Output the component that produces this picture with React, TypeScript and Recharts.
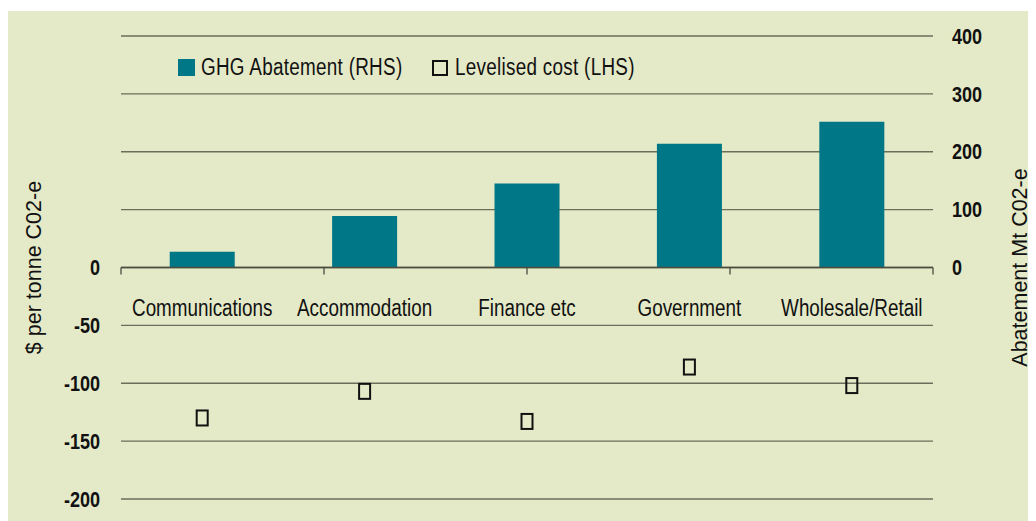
import React from "react";
import {
  ComposedChart,
  Bar,
  Scatter,
  XAxis,
  YAxis,
  CartesianGrid,
  ReferenceLine,
  Legend,
} from "recharts";

const sectors = [
  "Communications",
  "Accommodation",
  "Finance etc",
  "Government",
  "Wholesale/Retail",
];
const abatement = [27, 89, 145, 214, 252];
const levelisedCost = [-130, -107, -133, -86, -102];

const leftTicks = [-200, -150, -100, -50, 0, 50, 100, 150, 200];
const rightTicks = [0, 100, 200, 300, 400];
const boundaries = [0, 1, 2, 3, 4, 5];

const data = sectors.map((name, i) => ({
  name,
  abatement: abatement[i],
  cost: levelisedCost[i],
}));

const BG = "#e4e9c7";
const TEAL = "#007786";
const GRID = "#6b6e5a";
const INK = "#111";
const SANS = "'Liberation Sans', Arial, sans-serif";
const SQUEEZE = 0.82; // the original uses a narrow face

// text squeezed horizontally around its anchor point
const NarrowText = ({ x, y, anchor, size, bold, children }: any) => (
  <g transform={`translate(${x}, ${y}) scale(${SQUEEZE}, 1)`}>
    <text x={0} y={0} dy="0.35em" textAnchor={anchor} fontFamily={SANS} fontWeight={bold ? "bold" : "normal"} fontSize={size} fill={INK}>
      {children}
    </text>
  </g>
);

const LeftTick = (props: any) => {
  const { x, y, payload } = props;
  if (payload.value > 0) return null;
  return (
    <NarrowText x={x} y={y} anchor="end" size={22} bold>
      {payload.value}
    </NarrowText>
  );
};

const RightTick = (props: any) => {
  const { x, y, payload } = props;
  return (
    <NarrowText x={x} y={y} anchor="start" size={22} bold>
      {payload.value}
    </NarrowText>
  );
};

// category names sit just under the zero line, not at the bottom of the plot
const CategoryTick = (props: any) => {
  const { x, y, payload } = props;
  return (
    <NarrowText x={x} y={y - 191} anchor="middle" size={23}>
      {payload.value}
    </NarrowText>
  );
};

const SideTitle = (side: "left" | "right", text: string) => (props: any) => {
  const { viewBox } = props;
  const cx = side === "left" ? viewBox.x + 33 : viewBox.x + viewBox.width - 9;
  const cy = viewBox.y + viewBox.height / 2;
  return (
    <text x={cx} y={cy} transform={`rotate(-90, ${cx}, ${cy})`} textAnchor="middle" fontFamily={SANS} fontSize={21.5} fill={INK}>
      {text}
    </text>
  );
};

const HollowSquare = (props: any) => {
  const { cx, cy } = props;
  return <rect x={cx - 5.5} y={cy - 7.5} width={11} height={15} fill="none" stroke={INK} strokeWidth={2} />;
};

const narrowSpan: React.CSSProperties = {
  display: "inline-block",
  transform: `scaleX(${SQUEEZE})`,
  transformOrigin: "left center",
  whiteSpace: "nowrap",
  letterSpacing: 0.35,
};

const LegendBox = () => (
  <div style={{ display: "flex", alignItems: "center", fontFamily: SANS, fontSize: 23, color: INK }}>
    <span style={{ display: "inline-block", width: 17, height: 17, background: TEAL, marginRight: 6 }} />
    <span style={{ ...narrowSpan, width: 202 }}>GHG Abatement (RHS)</span>
    <span style={{ display: "inline-block", width: 12, height: 12, border: `2px solid ${INK}`, marginLeft: 29, marginRight: 7 }} />
    <span style={{ ...narrowSpan, width: 180 }}>Levelised cost (LHS)</span>
  </div>
);

export default function App() {
  return (
    <div style={{ marginTop: 3, width: 1028, height: 510, background: BG }}>
      <ComposedChart width={1028} height={510} data={data} margin={{ top: 25, right: 0, bottom: 0, left: 0 }} barCategoryGap="30%">
        <CartesianGrid yAxisId="left" xAxisId="cat" vertical={false} stroke={GRID} strokeWidth={1.3} />
        <XAxis xAxisId="cat" dataKey="name" height={22} axisLine={false} tickLine={false} tickSize={0} tickMargin={0} tick={<CategoryTick />} interval={0} />
        <XAxis xAxisId="num" type="number" domain={[0, 5]} hide allowDataOverflow />
        <YAxis
          yAxisId="left"
          width={113}
          domain={[-200, 200]}
          ticks={leftTicks}
          axisLine={false}
          tickLine={false}
          tickSize={0}
          tickMargin={21}
          tick={<LeftTick />}
          interval={0}
          label={{ content: SideTitle("left", "$ per tonne C02-e") }}
        />
        <YAxis
          yAxisId="right"
          orientation="right"
          width={103}
          domain={[-400, 400]}
          ticks={rightTicks}
          axisLine={false}
          tickLine={false}
          tickSize={0}
          tickMargin={19}
          tick={<RightTick />}
          interval={0}
          label={{ content: SideTitle("right", "Abatement Mt C02-e") }}
        />
        <Bar xAxisId="cat" yAxisId="right" dataKey="abatement" name="GHG Abatement (RHS)" fill={TEAL} isAnimationActive={false} />
        <ReferenceLine xAxisId="cat" yAxisId="left" y={0} stroke="#4a4c3e" strokeWidth={1.3} />
        {boundaries.map((b) => (
          <ReferenceLine
            key={b}
            xAxisId="num"
            yAxisId="left"
            segment={[{ x: b, y: 0 }, { x: b, y: -6 }]}
            stroke="#4a4c3e"
            strokeWidth={1.3}
          />
        ))}
        <Scatter xAxisId="cat" yAxisId="left" dataKey="cost" name="Levelised cost (LHS)" shape={<HollowSquare />} isAnimationActive={false} />
        <Legend
          layout="vertical"
          align="center"
          verticalAlign="middle"
          content={<LegendBox />}
          wrapperStyle={{ top: 43, left: 170, width: "auto" }}
        />
      </ComposedChart>
    </div>
  );
}
